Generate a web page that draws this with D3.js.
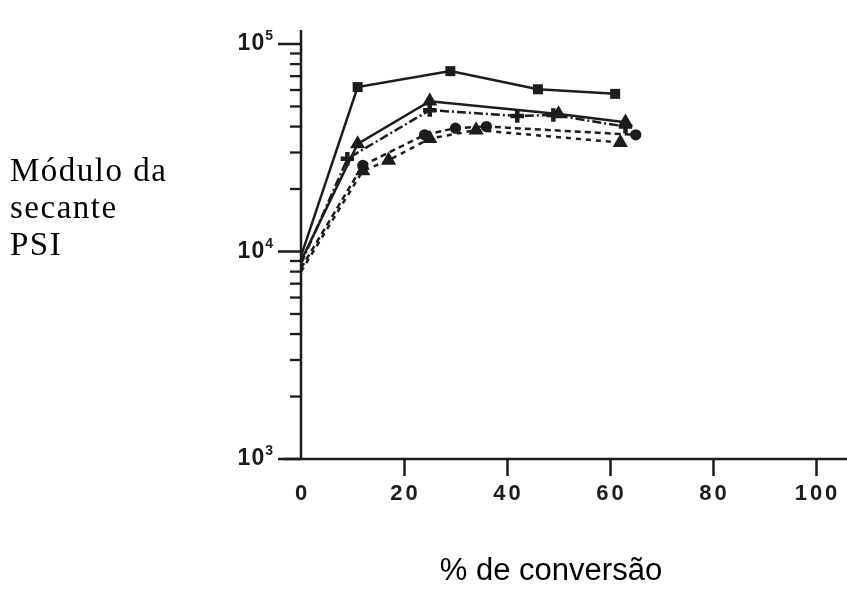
<!DOCTYPE html>
<html>
<head>
<meta charset="utf-8">
<script src="https://cdn.jsdelivr.net/npm/d3@7"></script>
<style>
  html, body { margin: 0; padding: 0; background: #fff; }
  svg { display: block; }
</style>
</head>
<body>
<svg id="chart" width="847" height="589"></svg>
<script>
// Axis ticks
const xTicks = [0, 20, 40, 60, 80, 100];
const yMajor = [1e3, 1e4, 1e5];
const yExp = ["3", "4", "5"];

// Series: % conversion vs secant modulus (psi)
const s1X = [0, 11, 29, 46, 61];
const s1Y = [9500, 62000, 74000, 60500, 57500];
const s2X = [0, 11, 25, 50, 63];
const s2Y = [9000, 33000, 53000, 46000, 42000];
const s3X = [0, 9, 25, 42, 49, 63];
const s3Y = [8700, 28000, 48000, 45000, 45500, 40000];
const s4X = [0, 12, 24, 30, 36, 65];
const s4Y = [8300, 26000, 36500, 39300, 40000, 36500];
const s5X = [0, 12, 17, 25, 34, 62];
const s5Y = [8000, 24500, 27500, 35000, 38500, 33500];

const series = [
  { x: s1X, y: s1Y, dash: null, marker: d3.symbolSquare },
  { x: s2X, y: s2Y, dash: null, marker: d3.symbolTriangle },
  { x: s3X, y: s3Y, dash: "9,3,2,3", marker: d3.symbolCross },
  { x: s4X, y: s4Y, dash: "6,4", marker: d3.symbolCircle },
  { x: s5X, y: s5Y, dash: "5,5", marker: d3.symbolTriangle }
];

const svg = d3.select("#chart");
const ink = "#1c1c1c";

const x = d3.scaleLinear().domain([0, 100]).range([301, 816]);
const y = d3.scaleLog().domain([1e3, 1e5]).range([459, 44]);

// soft print look
const defs = svg.append("defs");
defs.append("filter").attr("id", "soft")
  .append("feGaussianBlur").attr("stdDeviation", 0.7);

const plot = svg.append("g").attr("filter", "url(#soft)");

// x axis
const xAxis = d3.axisBottom(x).tickValues(xTicks).tickSize(17).tickFormat(d3.format("d"));
const gx = plot.append("g").attr("transform", `translate(0,${y(1e3)})`).call(xAxis);
gx.select(".domain").remove();
gx.append("line").attr("x1", 283).attr("x2", 847).attr("y1", 0).attr("y2", 0)
  .attr("stroke", ink).attr("stroke-width", 2.5);
gx.selectAll(".tick line").attr("stroke", ink).attr("stroke-width", 2.5);
gx.selectAll(".tick").filter(d => d === 0).select("line").remove();
gx.selectAll(".tick text")
  .attr("y", 41).attr("dy", 0)
  .attr("dx", 1)
  .attr("fill", ink)
  .style("font-family", "'Liberation Sans', Arial, sans-serif")
  .style("font-weight", "bold")
  .style("font-size", "22px")
  .style("letter-spacing", "3px");

// y axis with log minor ticks
const minor = [];
for (const dec of [1e3, 1e4]) for (let k = 2; k <= 9; k++) minor.push(dec * k);
const gy = plot.append("g").attr("transform", `translate(${x(0)},0)`);
gy.append("line").attr("x1", 0).attr("x2", 0).attr("y1", 30).attr("y2", y(1e3))
  .attr("stroke", ink).attr("stroke-width", 2.5);
gy.selectAll(".minor").data(minor).join("line")
  .attr("x1", -11).attr("x2", 0)
  .attr("y1", d => y(d)).attr("y2", d => y(d))
  .attr("stroke", ink).attr("stroke-width", 2.3);
gy.selectAll(".major").data(yMajor).join("line")
  .attr("x1", -23).attr("x2", 0)
  .attr("y1", d => y(d)).attr("y2", d => y(d))
  .attr("stroke", ink).attr("stroke-width", 2.5);
const lab = gy.selectAll(".lab").data(yMajor).join("text")
  .attr("x", -27).attr("y", d => y(d) + 6)
  .attr("text-anchor", "end")
  .attr("fill", ink)
  .style("font-family", "'Liberation Sans', Arial, sans-serif")
  .style("font-weight", "bold")
  .style("font-size", "23px")
  .style("letter-spacing", "1px");
lab.append("tspan").text("10");
lab.append("tspan").attr("dy", -10).style("font-size", "14px").text((d, i) => yExp[i]);

// series lines and markers
const line = d3.line();
series.forEach(s => {
  const pts = s.x.map((v, i) => [x(v), y(s.y[i])]);
  plot.append("path").datum(pts)
    .attr("d", line)
    .attr("fill", "none")
    .attr("stroke", ink)
    .attr("stroke-width", 2.5)
    .attr("stroke-dasharray", s.dash);
  plot.selectAll(null).data(pts.slice(1)).join("path")
    .attr("transform", d => `translate(${d[0]},${d[1]})`)
    .attr("d", d3.symbol().type(s.marker).size(100))
    .attr("fill", ink);
});

// axis titles
["Módulo da", "secante", "PSI"].forEach((t, i) => {
  svg.append("text")
    .attr("x", 10).attr("y", 181 + i * 37)
    .attr("fill", "#000")
    .style("font-family", "'Liberation Serif', 'Times New Roman', serif")
    .style("font-size", "33px")
    .style("letter-spacing", "1.5px")
    .text(t);
});

svg.append("text")
  .attr("x", 551).attr("y", 580)
  .attr("text-anchor", "middle")
  .attr("fill", "#000")
  .style("font-family", "'Liberation Sans', Arial, sans-serif")
  .style("font-size", "31px")
  .text("% de conversão");
</script>
</body>
</html>
